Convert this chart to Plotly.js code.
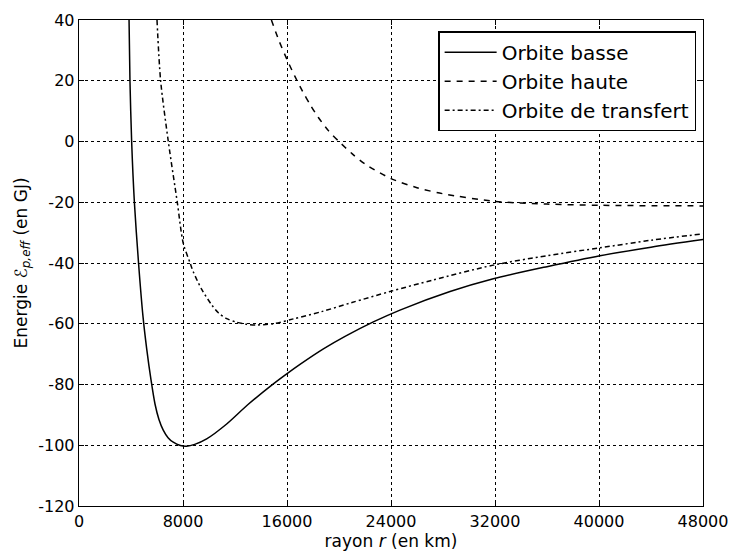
<!DOCTYPE html>
<html>
<head>
<meta charset="utf-8">
<script src="https://cdn.plot.ly/plotly-3.0.1.min.js"></script>
<style>html,body{margin:0;padding:0;background:#fff;}#chart{width:733px;height:551px;}</style>
</head>
<body>
<div id="chart"></div>
<script>
// Orbite basse (solid)
const basseR = [3850, 3920, 4050, 4260, 4580, 4920, 5200, 5540, 5850, 6150, 6480, 6850, 7250, 7800, 8280, 8900, 9820, 11360, 13000, 14950, 15980, 17000, 18800, 20500, 22640, 24690, 28540, 31870, 36000, 40080, 44000, 48000];
const basseE = [40, 20, 0, -20, -40, -57.5, -68, -78.5, -86.5, -91.5, -95, -97.5, -99.0, -100.1, -100.3, -99.7, -97.9, -93.0, -86.6, -79.8, -76.5, -73.4, -68.3, -64.1, -59.4, -55.5, -49.4, -45.2, -41.2, -37.6, -34.8, -32.3];
// Orbite haute (dashed)
const hauteR = [14800, 15400, 16000, 16600, 17200, 17800, 18400, 19200, 20000, 21000, 22000, 24000, 26000, 28000, 32000, 36000, 40000, 48000];
const hauteE = [40, 33, 27, 21.5, 16.5, 12, 8, 3.5, 0, -4, -7.4, -12.2, -15.2, -17.2, -19.7, -20.6, -21, -21.2];
// Orbite de transfert (dash-dot)
const transR = [6000, 6280, 6870, 7560, 8020, 8540, 8790, 9440, 10210, 10720, 11360, 12130, 12900, 13600, 14180, 15080, 16490, 18670, 21000, 23920, 27230, 31870, 36000, 40080, 44000, 48000];
const transE = [40, 20, 0, -20, -33.5, -39.9, -42.9, -48.7, -53.8, -56.4, -58.3, -59.5, -60.2, -60.4, -60.3, -59.9, -58.4, -56.0, -53.0, -49.4, -45.6, -40.7, -37.6, -35.0, -32.5, -30.4];

const xTicks = [0, 8000, 16000, 24000, 32000, 40000, 48000];
const yTicks = [-120, -100, -80, -60, -40, -20, 0, 20, 40];

const font = {family: 'DejaVu Sans, sans-serif', color: '#000'};

const traces = [
  {x: basseR, y: basseE, name: 'Orbite basse', mode: 'lines',
   line: {color: '#000', width: 1.5, shape: 'spline', smoothing: 0.8, dash: 'solid'}},
  {x: hauteR, y: hauteE, name: 'Orbite haute', mode: 'lines',
   line: {color: '#000', width: 1.5, shape: 'spline', smoothing: 0.8, dash: '6px,6px'}},
  {x: transR, y: transE, name: 'Orbite de transfert', mode: 'lines',
   line: {color: '#000', width: 1.5, shape: 'spline', smoothing: 0.8, dash: '5px,3px,2px,3px'}}
];

const axisCommon = {
  showline: true, linecolor: '#000', linewidth: 1.3, mirror: 'allticks',
  ticks: 'inside', ticklen: 5, tickcolor: '#000', tickwidth: 1,
  showgrid: true, gridcolor: '#000', gridwidth: 1, griddash: 'dot',
  zeroline: false, tickfont: Object.assign({size: 16}, font)
};

const layout = {
  width: 733, height: 551,
  margin: {l: 79, r: 30, t: 20, b: 45},
  paper_bgcolor: '#fff', plot_bgcolor: '#fff',
  showlegend: true,
  legend: {x: 0.989, y: 0.977, xanchor: 'right', yanchor: 'top',
    bgcolor: '#fff', bordercolor: '#000', borderwidth: 1.5,
    font: Object.assign({size: 20}, font), tracegroupgap: 0, itemwidth: 52},
  xaxis: Object.assign({}, axisCommon, {
    range: [0, 48000], tickvals: xTicks, ticktext: xTicks.map(String),
    title: {text: 'rayon <i>r</i> (en km)', font: Object.assign({size: 17}, font), standoff: 4}
  }),
  yaxis: Object.assign({}, axisCommon, {
    range: [-120, 40], tickvals: yTicks, ticktext: yTicks.map(String),
    title: {text: 'Energie <i>ℰ</i><sub><i>p,eff</i></sub> (en GJ)', font: Object.assign({size: 17}, font), standoff: 6}
  })
};

Plotly.newPlot('chart', traces, layout, {displayModeBar: false, staticPlot: true});
</script>
</body>
</html>
